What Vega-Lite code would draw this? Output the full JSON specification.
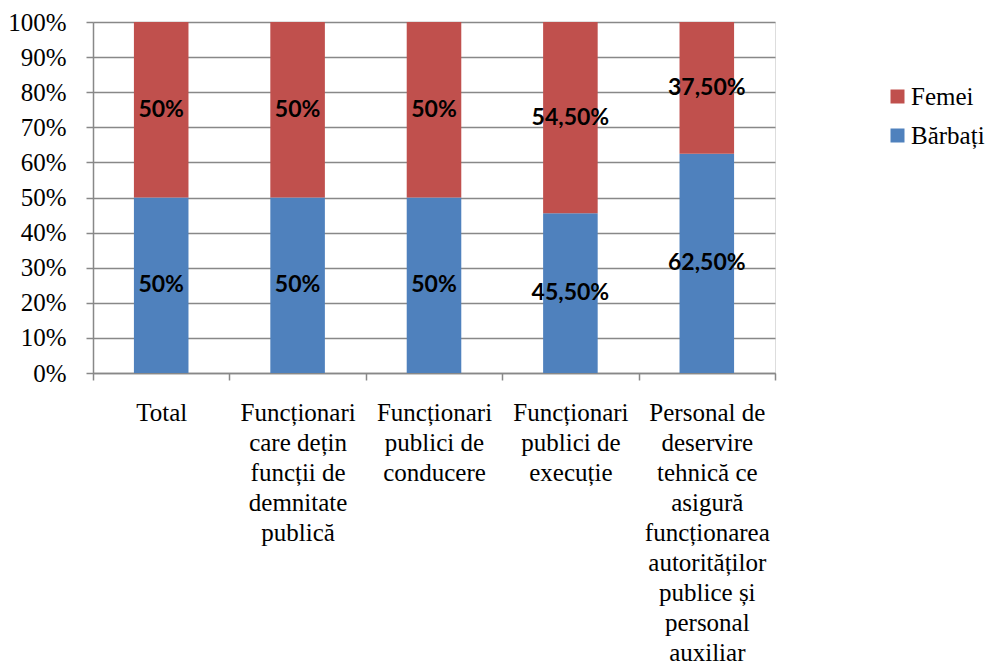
{
  "$schema": "https://vega.github.io/schema/vega-lite/v6.json",
  "width": 682,
  "height": 351,
  "autosize": "none",
  "padding": {"left": 93, "top": 22, "right": 213, "bottom": 293},
  "background": "white",
  "config": {
    "axisY": {
      "values": [0, 0.1, 0.2, 0.3, 0.4, 0.5, 0.6, 0.7, 0.8, 0.9, 1],
      "format": ".0%",
      "labelOverlap": false,
      "labelFont": "Liberation Serif",
      "labelFontSize": 25,
      "labelColor": "black",
      "labelPadding": 20,
      "tickSize": 7,
      "tickColor": "#888888",
      "tickWidth": 1.5,
      "domainColor": "#888888",
      "domainWidth": 1.5,
      "gridColor": "#888888",
      "gridWidth": 1.5,
      "grid": true
    }
  },
  "data": {
    "values": [
      {"cat": "Total", "gen": "Bărbați", "v": 0.5, "eticheta": "50%"},
      {"cat": "Total", "gen": "Femei", "v": 0.5, "eticheta": "50%"},
      {"cat": "Funcționari\ncare dețin\nfuncții de\ndemnitate\npublică", "gen": "Bărbați", "v": 0.5, "eticheta": "50%"},
      {"cat": "Funcționari\ncare dețin\nfuncții de\ndemnitate\npublică", "gen": "Femei", "v": 0.5, "eticheta": "50%"},
      {"cat": "Funcționari\npublici de\nconducere", "gen": "Bărbați", "v": 0.5, "eticheta": "50%"},
      {"cat": "Funcționari\npublici de\nconducere", "gen": "Femei", "v": 0.5, "eticheta": "50%"},
      {"cat": "Funcționari\npublici de\nexecuție", "gen": "Bărbați", "v": 0.455, "eticheta": "45,50%"},
      {"cat": "Funcționari\npublici de\nexecuție", "gen": "Femei", "v": 0.545, "eticheta": "54,50%"},
      {"cat": "Personal de\ndeservire\ntehnică ce\nasigură\nfuncționarea\nautorităților\npublice și\npersonal\nauxiliar", "gen": "Bărbați", "v": 0.625, "eticheta": "62,50%"},
      {"cat": "Personal de\ndeservire\ntehnică ce\nasigură\nfuncționarea\nautorităților\npublice și\npersonal\nauxiliar", "gen": "Femei", "v": 0.375, "eticheta": "37,50%"}
    ]
  },
  "transform": [
    {"stack": "v", "groupby": ["cat"], "sort": [{"field": "gen", "order": "ascending"}], "as": ["v0", "v1"]},
    {"calculate": "(datum.v0 + datum.v1) / 2", "as": "mijloc"}
  ],
  "encoding": {
    "x": {
      "field": "cat",
      "type": "nominal",
      "sort": null,
      "title": null,
      "scale": {"paddingInner": 0, "paddingOuter": 0},
      "axis": {
        "labelAngle": 0,
        "labelExpr": "split(datum.label, '\\n')",
        "labelFont": "Liberation Serif",
        "labelFontSize": 25,
        "labelColor": "black",
        "labelLineHeight": 30,
        "labelBaseline": "top",
        "labelLimit": 0,
        "labelPadding": 20,
        "tickBand": "extent",
        "tickSize": 7,
        "tickColor": "#888888",
        "tickWidth": 1.5,
        "domainColor": "#888888",
        "domainWidth": 1.5,
        "grid": false
      }
    }
  },
  "layer": [
    {
      "mark": {"type": "bar", "width": {"band": 0.4}},
      "encoding": {
        "y": {
          "field": "v0",
          "type": "quantitative",
          "title": null,
          "scale": {"domain": [0, 1], "nice": false}
        },
        "y2": {"field": "v1"},
        "color": {
          "field": "gen",
          "type": "nominal",
          "scale": {"domain": ["Femei", "Bărbați"], "range": ["#C0504D", "#4F81BD"]},
          "legend": {
            "title": null,
            "orient": "none",
            "legendX": 792,
            "legendY": 62,
            "symbolType": "square",
            "symbolSize": 196,
            "symbolStrokeWidth": 0,
            "symbolOpacity": 1,
            "labelFont": "Liberation Serif",
            "labelFontSize": 25,
            "labelColor": "black",
            "labelOffset": 1,
            "rowPadding": 13,
            "labelLimit": 0
          }
        }
      }
    },
    {
      "mark": {"type": "text", "font": "Lato", "fontWeight": "bold", "fontSize": 23, "color": "black", "baseline": "middle"},
      "encoding": {
        "y": {"field": "mijloc", "type": "quantitative", "title": null},
        "text": {"field": "eticheta"}
      }
    }
  ]
}
